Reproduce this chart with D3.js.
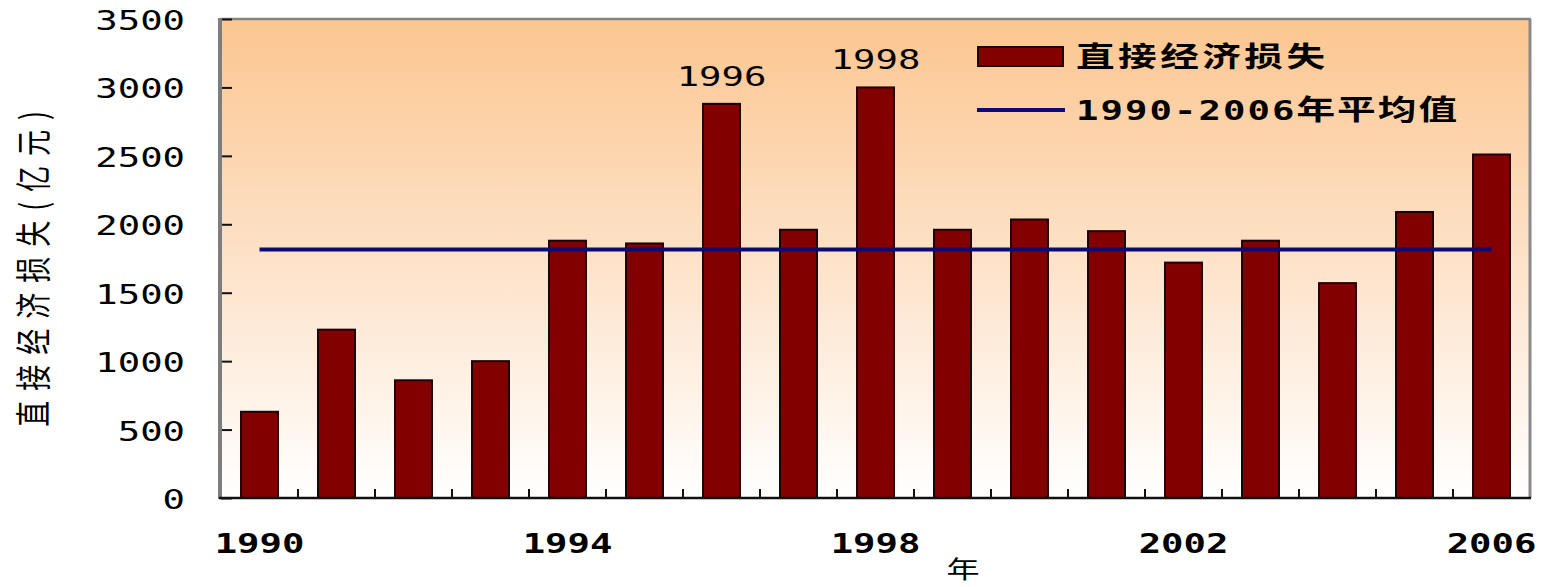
<!DOCTYPE html>
<html>
<head>
<meta charset="utf-8">
<script src="https://cdn.jsdelivr.net/npm/d3@7"></script>
<style>
  html, body { margin: 0; padding: 0; background: #ffffff; }
  svg { display: block; }
</style>
</head>
<body>
<svg id="chart" width="1543" height="587"></svg>
<script>
// ---- data ----
const years = [1990, 1991, 1992, 1993, 1994, 1995, 1996, 1997, 1998, 1999, 2000, 2001, 2002, 2003, 2004, 2005, 2006];
const losses = [630, 1230, 860, 1000, 1880, 1860, 2880, 1960, 3000, 1960, 2035, 1950, 1720, 1880, 1570, 2090, 2510];
const averageValue = 1815;
const yTicks = [0, 500, 1000, 1500, 2000, 2500, 3000, 3500];
const xTickLabels = [1990, 1994, 1998, 2002, 2006];
const annotatedYears = [1996, 1998];
const seriesName = "直接经济损失";
const avgNameDigits = "1990-2006";
const avgNameCJK = "年平均值";
const yTitle = "直接经济损失(亿元)";
const xTitle = "年";

// ---- layout ----
const svg = d3.select("#chart");
const L = 221, R = 1530, T = 19, B = 498;
const SX = 1.38; // horizontal stretch of the original picture's text
const monoFont = "'DejaVu Sans Mono', 'Liberation Mono', monospace";
const cjkFont = "'Noto Sans CJK SC', 'Noto Sans', sans-serif";

const x = d3.scaleBand().domain(years).range([L, R]).paddingInner(0.52).paddingOuter(0.26);
const y = d3.scaleLinear().domain([0, 3500]).range([B, T]);
const step = x.step();

// background gradient
const defs = svg.append("defs");
const grad = defs.append("linearGradient").attr("id", "bg").attr("x1", 0).attr("y1", 0).attr("x2", 0).attr("y2", 1);
grad.append("stop").attr("offset", "0%").attr("stop-color", "#fcc690");
grad.append("stop").attr("offset", "50%").attr("stop-color", "#fde2c8");
grad.append("stop").attr("offset", "100%").attr("stop-color", "#ffffff");

svg.append("rect").attr("x", L).attr("y", T).attr("width", R - L).attr("height", B - T).attr("fill", "url(#bg)");

// frame (top & right)
svg.append("line").attr("x1", L).attr("x2", R + 1).attr("y1", T).attr("y2", T).attr("stroke", "#858585").attr("stroke-width", 2.5);
svg.append("line").attr("x1", R).attr("x2", R).attr("y1", T).attr("y2", B).attr("stroke", "#8a8a8a").attr("stroke-width", 3);

function stretched(parent, px, py, str, opts) {
  const g = parent.append("g").attr("transform", `translate(${px},${py}) scale(${SX},1)`);
  const t = g.append("text")
    .attr("x", 0).attr("y", 0)
    .attr("text-anchor", opts.anchor || "start")
    .attr("font-family", opts.family)
    .attr("font-size", opts.size)
    .attr("font-weight", opts.weight || "normal")
    .attr("letter-spacing", opts.spacing || 0)
    .attr("fill", "#000")
    .text(str);
  return t;
}

// bars
svg.append("g").selectAll("rect").data(years).join("rect")
  .attr("x", d => x(d))
  .attr("y", (d, i) => y(losses[i]))
  .attr("width", x.bandwidth())
  .attr("height", (d, i) => y(0) - y(losses[i]))
  .attr("fill", "#820000")
  .attr("stroke", "#1e0000")
  .attr("stroke-width", 2);

// average line
svg.append("line")
  .attr("x1", x(years[0]) + x.bandwidth() / 2)
  .attr("x2", x(years[years.length - 1]) + x.bandwidth() / 2)
  .attr("y1", y(averageValue)).attr("y2", y(averageValue))
  .attr("stroke", "#0a0a78").attr("stroke-width", 4);

// y axis
const yAxis = d3.axisRight(y).tickValues(yTicks).tickSize(11).tickFormat("");
const yg = svg.append("g").attr("transform", `translate(${L},0)`).call(yAxis);
yg.select(".domain").remove();
yg.selectAll(".tick line").attr("stroke", "#111").attr("stroke-width", 2);
svg.append("line").attr("x1", L - 1).attr("x2", L - 1).attr("y1", T - 1).attr("y2", B + 1).attr("stroke", "#7d7d7d").attr("stroke-width", 4);

yTicks.forEach(v => {
  stretched(svg, 185, y(v) + 11, String(v), { family: monoFont, size: 27, anchor: "end" });
});

// x axis: ticks at category boundaries
const boundaries = years.slice(1).map(d => x(d) - (step - x.bandwidth()) / 2);
svg.append("g").selectAll("line").data(boundaries).join("line")
  .attr("x1", d => d).attr("x2", d => d)
  .attr("y1", B).attr("y2", B - 9)
  .attr("stroke", "#111").attr("stroke-width", 2);
svg.append("line").attr("x1", L - 2).attr("x2", R + 1).attr("y1", B).attr("y2", B).attr("stroke", "#111").attr("stroke-width", 2.5);

xTickLabels.forEach(yr => {
  stretched(svg, x(yr) + x.bandwidth() / 2, 553, String(yr), { family: monoFont, size: 27, anchor: "middle", weight: "bold" });
});

// annotations above highlighted bars
annotatedYears.forEach(yr => {
  const i = years.indexOf(yr);
  stretched(svg, x(yr) + x.bandwidth() / 2, y(losses[i]) - 18, String(yr), { family: monoFont, size: 27, anchor: "middle" });
});

// legend
svg.append("rect").attr("x", 978).attr("y", 47).attr("width", 85).attr("height", 19)
  .attr("fill", "#820000").attr("stroke", "#1e0000").attr("stroke-width", 2);
stretched(svg, 1076, 67, seriesName, { family: cjkFont, size: 28, weight: "bold", spacing: 2.5 });

svg.append("line").attr("x1", 977).attr("x2", 1065).attr("y1", 110).attr("y2", 110)
  .attr("stroke", "#0a0a78").attr("stroke-width", 4);
const lt = stretched(svg, 1076, 120, "", { family: monoFont, size: 27, weight: "bold", spacing: 1.5 });
lt.append("tspan").text(avgNameDigits);
lt.append("tspan").attr("font-family", cjkFont).attr("font-size", 28).text(avgNameCJK);

// y axis title (rotated)
svg.append("g").attr("transform", `translate(47,264) scale(${SX},1)`)
  .append("text")
  .attr("transform", "rotate(-90)")
  .attr("text-anchor", "middle")
  .attr("font-family", cjkFont)
  .attr("font-size", 26)
  .attr("letter-spacing", 10)
  .attr("fill", "#000")
  .text(yTitle);

// x axis title
stretched(svg, 963, 578, xTitle, { family: cjkFont, size: 24, anchor: "middle" });
</script>
</body>
</html>
